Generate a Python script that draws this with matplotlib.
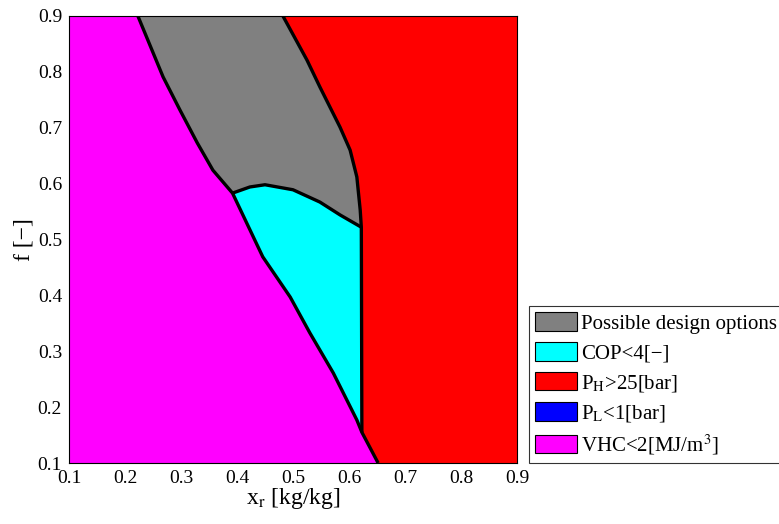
import matplotlib
matplotlib.use('Agg')
import matplotlib.pyplot as plt
import matplotlib.patches as mpatches
import numpy as np

plt.rcParams['font.family'] = 'Liberation Serif'
plt.rcParams['mathtext.fontset'] = 'stix'

# VHC = 2 MJ/m3 boundary (magenta on the left)
vhc_x = [0.223, 0.268, 0.298, 0.329, 0.357, 0.392, 0.446, 0.495, 0.530, 0.572, 0.614, 0.623, 0.652]
vhc_f = [0.900, 0.791, 0.732, 0.673, 0.624, 0.583, 0.469, 0.397, 0.333, 0.261, 0.177, 0.155, 0.100]
vhc_kink = 5     # where the COP line starts
vhc_foot = 11    # where the P_H vertical ends

# P_H = 25 bar boundary (red on the right)
ph_x = [0.482, 0.525, 0.548, 0.584, 0.602, 0.614, 0.620, 0.622, 0.623]
ph_f = [0.900, 0.821, 0.773, 0.701, 0.660, 0.612, 0.553, 0.522, 0.155]
ph_join = 7      # where the COP line meets it

# COP = 4 boundary (between grey and cyan)
cop_x = [0.392, 0.423, 0.450, 0.500, 0.548, 0.584, 0.622]
cop_f = [0.583, 0.594, 0.598, 0.589, 0.567, 0.544, 0.522]

xmin, xmax, fmin, fmax = 0.1, 0.9, 0.1, 0.9

labels = ['Possible design options', u'COP<4[\u2212]', r'P$_\mathrm{H}$>25[bar]',
          r'P$_\mathrm{L}$<1[bar]', r'VHC<2[MJ/m$^3$]']
colors = ['#808080', '#00ffff', '#ff0000', '#0000ff', '#ff00ff']

vx, vf = np.array(vhc_x), np.array(vhc_f)
px, pf = np.array(ph_x), np.array(ph_f)
cx, cf = np.array(cop_x), np.array(cop_f)

fig = plt.figure(figsize=(7.79, 5.24), dpi=100)
ax = fig.add_axes([69/779., 1-463/524., 448/779., 447/524.])

# magenta
ax.fill(np.concatenate([[xmin, xmin], vx]), np.concatenate([[fmin, fmax], vf]),
        color=colors[4], lw=0)
# red
ax.fill(np.concatenate([px, [vx[-1], xmax, xmax]]), np.concatenate([pf, [vf[-1], fmin, fmax]]),
        color=colors[2], lw=0)
# grey
ax.fill(np.concatenate([vx[:vhc_kink+1], cx[1:], px[:ph_join+1][::-1]]),
        np.concatenate([vf[:vhc_kink+1], cf[1:], pf[:ph_join+1][::-1]]),
        color=colors[0], lw=0)
# cyan
ax.fill(np.concatenate([vx[vhc_kink:vhc_foot+1], px[ph_join:][::-1], cx[::-1]]),
        np.concatenate([vf[vhc_kink:vhc_foot+1], pf[ph_join:][::-1], cf[::-1]]),
        color=colors[1], lw=0)

for xs, fs in [(vx, vf), (px, pf), (cx, cf)]:
    ax.plot(xs, fs, color='k', lw=2.4, solid_capstyle='butt', solid_joinstyle='round')

ax.set_xlim(xmin, xmax)
ax.set_ylim(fmin, fmax)
ticks = np.round(np.arange(0.1, 0.91, 0.1), 1)
ax.set_xticks(ticks)
ax.set_yticks(ticks)
ax.set_xticklabels(['%.1f' % t for t in ticks])
ax.set_yticklabels(['%.1f' % t for t in ticks])
ax.tick_params(length=0, labelsize=14)
ax.tick_params(axis='x', pad=5)
ax.tick_params(axis='y', pad=5)
ax.set_xlabel(r'x$_\mathrm{r}$ [kg/kg]', fontsize=17, labelpad=-1)
ax.set_ylabel(u'f [\u2212]', fontsize=17, labelpad=2)

handles = [mpatches.Patch(facecolor=c, edgecolor='k', lw=0.8) for c in colors]
leg = fig.legend(handles, labels, loc='lower left', bbox_to_anchor=(529/779., 1-463/524.),
                 fontsize=15, frameon=True, fancybox=False, edgecolor='k',
                 handlelength=2.0, handleheight=1.0, handletextpad=0.2,
                 labelspacing=0.4, borderpad=0.3, borderaxespad=0)
leg.get_frame().set_linewidth(0.8)

fig.savefig('out.png', dpi=100)
